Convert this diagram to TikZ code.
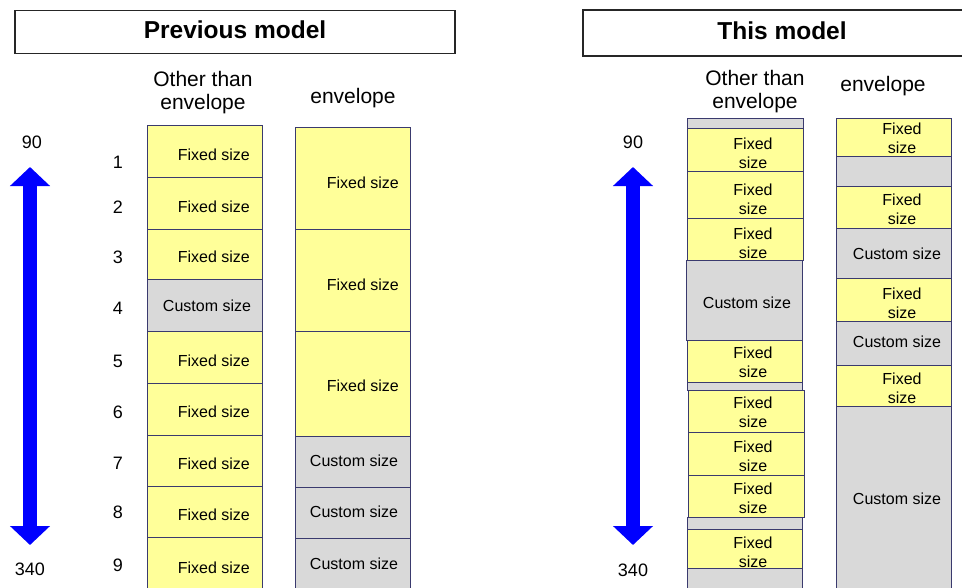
\documentclass[tikz,border=0pt]{standalone}
\usepackage{fontspec}
\setmainfont{Liberation Sans}
\usetikzlibrary{arrows.meta}
\definecolor{fixc}{HTML}{FFFF99}
\definecolor{cusc}{HTML}{D9D9D9}
\definecolor{edgec}{HTML}{3A3A6E}
\definecolor{arrc}{HTML}{0000FF}
% name, x1, x2, y1, y2, fill
\newcommand\cellbox[6]{%
  \node[cellstyle, fill=#6, minimum width={(#3-#2)*1pt}, minimum height={(#5-#4)*1pt}]
    (#1) at ({(#2+#3)/2},{(#4+#5)/2}) {};}
\tikzset{
  cellstyle/.style={draw=edgec, line width=1pt, inner sep=0pt, outer sep=0pt},
  txt/.style={font=\fontsize{16}{19}\selectfont, inner sep=0pt, align=center},
  hdr/.style={font=\fontsize{21}{23}\selectfont, inner sep=0pt, align=center},
  num/.style={font=\fontsize{18}{20}\selectfont, inner sep=0pt},
  titlebox/.style={draw=black!85, line width=1.3pt, inner sep=0pt, outer sep=0pt},
  titletxt/.style={font=\bfseries\fontsize{24.5}{28}\selectfont, inner sep=0pt},
  bigarrow/.style={draw=arrc, line width=14pt,
    {Triangle[width=39pt,length=19pt]}-{Triangle[width=39pt,length=19pt]}},
}
\begin{document}
\begin{tikzpicture}[x=1pt,y=-1pt]
\fill[white] (0,0) rectangle (962,587);
\useasboundingbox (0,0) rectangle (962,587);

% ---------------- Previous model ----------------
\node[titlebox, minimum width=440pt, minimum height=43pt] (tl) at (235,32) {};
\node[titletxt] (tlt) at (235,30) {Previous model};
\node[hdr] (hla) at (203,93) {Other than\\envelope};
\node[hdr] (hlb) at (353,98) {envelope};

\node[num] (n90l) at (32,142) {90};
\node[num] (n340l) at (30,569) {340};
\coordinate (alt) at (30,167);
\coordinate (alb) at (30,545);
\draw[bigarrow] (alt) -- (alb);

\node[num] (r1) at (118,162) {1};
\node[num] (r2) at (118,207) {2};
\node[num] (r3) at (118,257) {3};
\node[num] (r4) at (118,308) {4};
\node[num] (r5) at (118,361) {5};
\node[num] (r6) at (118,412) {6};
\node[num] (r7) at (118,463) {7};
\node[num] (r8) at (118,512) {8};
\node[num] (r9) at (118,565) {9};

\cellbox{a1}{147}{262}{125}{177}{fixc}
\cellbox{a2}{147}{262}{177}{229}{fixc}
\cellbox{a3}{147}{262}{229}{279}{fixc}
\cellbox{a4}{147}{262}{279}{331}{cusc}
\cellbox{a5}{147}{262}{331}{383}{fixc}
\cellbox{a6}{147}{262}{383}{435}{fixc}
\cellbox{a7}{147}{262}{435}{486}{fixc}
\cellbox{a8}{147}{262}{486}{537}{fixc}
\cellbox{a9}{147}{262}{537}{600}{fixc}

\node[txt, anchor=east] (a1t) at (250,155) {Fixed size};
\node[txt, anchor=east] (a2t) at (250,207) {Fixed size};
\node[txt, anchor=east] (a3t) at (250,257) {Fixed size};
\node[txt] (a4t) at (207,306) {Custom size};
\node[txt, anchor=east] (a5t) at (250,361) {Fixed size};
\node[txt, anchor=east] (a6t) at (250,412) {Fixed size};
\node[txt, anchor=east] (a7t) at (250,464) {Fixed size};
\node[txt, anchor=east] (a8t) at (250,515) {Fixed size};
\node[txt, anchor=east] (a9t) at (250,568) {Fixed size};

\cellbox{b1}{295}{410}{127}{229}{fixc}
\cellbox{b2}{295}{410}{229}{331}{fixc}
\cellbox{b3}{295}{410}{331}{436}{fixc}
\cellbox{b4}{295}{410}{436}{487}{cusc}
\cellbox{b5}{295}{410}{487}{538}{cusc}
\cellbox{b6}{295}{410}{538}{600}{cusc}

\node[txt, anchor=east] (b1t) at (399,183) {Fixed size};
\node[txt, anchor=east] (b2t) at (399,285) {Fixed size};
\node[txt, anchor=east] (b3t) at (399,386) {Fixed size};
\node[txt] (b4t) at (354,461) {Custom size};
\node[txt] (b5t) at (354,512) {Custom size};
\node[txt] (b6t) at (354,564) {Custom size};

% ---------------- This model ----------------
\node[titlebox, minimum width=398pt, minimum height=46pt] (tr) at (782,33) {};
\node[titletxt] (trt) at (782,31) {This model};
\node[hdr] (hrc) at (755,92) {Other than\\envelope};
\node[hdr] (hrd) at (883,86) {envelope};

\node[num] (n90r) at (633,142) {90};
\node[num] (n340r) at (633,570) {340};
\coordinate (art) at (633,167);
\coordinate (arb) at (633,545);
\draw[bigarrow] (art) -- (arb);

\cellbox{c0}{687}{803}{118}{128}{cusc}
\cellbox{c1}{687}{803}{128}{171}{fixc}
\cellbox{c2}{687}{803}{171}{218}{fixc}
\cellbox{c3}{687}{803}{218}{260}{fixc}
\cellbox{c4}{686}{802}{260}{340}{cusc}
\cellbox{c5}{687}{802}{340}{382}{fixc}
\cellbox{c6}{687}{802}{382}{390}{cusc}
\cellbox{c7}{688}{804}{390}{432}{fixc}
\cellbox{c8}{688}{804}{432}{475}{fixc}
\cellbox{c9}{688}{804}{475}{517}{fixc}
\cellbox{c10}{687}{802}{517}{529}{cusc}
\cellbox{c11}{687}{802}{529}{568}{fixc}
\cellbox{c12}{687}{802}{568}{600}{cusc}

\node[txt] (c1t) at (753,153) {Fixed\\size};
\node[txt] (c2t) at (753,199) {Fixed\\size};
\node[txt] (c3t) at (753,243) {Fixed\\size};
\node[txt] (c4t) at (747,303) {Custom size};
\node[txt] (c5t) at (753,362) {Fixed\\size};
\node[txt] (c7t) at (753,412) {Fixed\\size};
\node[txt] (c8t) at (753,456) {Fixed\\size};
\node[txt] (c9t) at (753,498) {Fixed\\size};
\node[txt] (c11t) at (753,552) {Fixed\\size};

\cellbox{d1}{836}{951}{118}{156}{fixc}
\cellbox{d2}{836}{951}{156}{186}{cusc}
\cellbox{d3}{836}{951}{186}{228}{fixc}
\cellbox{d4}{836}{951}{228}{278}{cusc}
\cellbox{d5}{836}{951}{278}{321}{fixc}
\cellbox{d6}{836}{951}{321}{365}{cusc}
\cellbox{d7}{836}{951}{365}{406}{fixc}
\cellbox{d8}{836}{951}{406}{600}{cusc}

\node[txt] (d1t) at (902,138) {Fixed\\size};
\node[txt] (d3t) at (902,209) {Fixed\\size};
\node[txt] (d4t) at (897,254) {Custom size};
\node[txt] (d5t) at (902,303) {Fixed\\size};
\node[txt] (d6t) at (897,342) {Custom size};
\node[txt] (d7t) at (902,388) {Fixed\\size};
\node[txt] (d8t) at (897,499) {Custom size};
\end{tikzpicture}
\end{document}
